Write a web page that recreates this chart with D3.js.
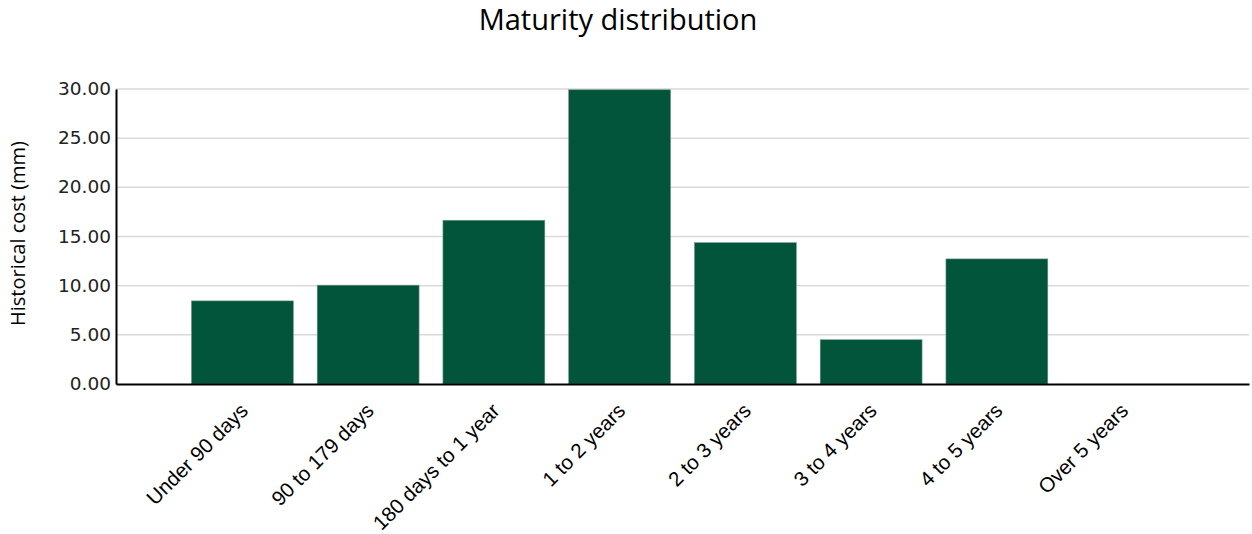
<!DOCTYPE html>
<html>
<head>
<meta charset="utf-8">
<script src="https://cdnjs.cloudflare.com/ajax/libs/d3/7.8.5/d3.min.js"></script>
<style>
  body { margin: 0; background: #fff; }
  svg { display: block; }
</style>
</head>
<body>
<svg width="1252" height="534"></svg>
<script>
var categories = ["Under 90 days", "90 to 179 days", "180 days to 1 year", "1 to 2 years",
  "2 to 3 years", "3 to 4 years", "4 to 5 years", "Over 5 years"];
var values = [8.45, 10.05, 16.65, 29.92, 14.37, 4.5, 12.72, 0];
var yTicks = [0, 5, 10, 15, 20, 25, 30];

var width = 1252;
var height = 534;
var margin = {top: 89, right: 3, bottom: 150, left: 116};
var plotW = width - margin.left - margin.right;
var plotH = height - margin.top - margin.bottom;

var svg = d3.select('svg');

var x = d3.scaleBand()
  .domain(categories)
  .range([margin.left, margin.left + plotW])
  .paddingInner(0.19)
  .paddingOuter(0.6);

var y = d3.scaleLinear()
  .domain([0, 30])
  .range([margin.top + plotH, margin.top]);

// title
svg.append('text')
  .attr('x', 618)
  .attr('y', 30)
  .attr('text-anchor', 'middle')
  .style('font-family', '"Open Sans", sans-serif')
  .style('font-size', '29px')
  .style('fill', '#000')
  .text('Maturity distribution');

// gridlines
svg.append('g')
  .selectAll('line')
  .data(yTicks.filter(function(t){ return t > 0; }))
  .enter().append('line')
  .attr('x1', margin.left)
  .attr('x2', margin.left + plotW)
  .attr('y1', function(d){ return y(d); })
  .attr('y2', function(d){ return y(d); })
  .attr('stroke', '#d9d9d9')
  .attr('stroke-width', 1.5);

// bars
svg.append('g')
  .selectAll('rect')
  .data(values)
  .enter().append('rect')
  .attr('x', function(d, i){ return x(categories[i]); })
  .attr('y', function(d){ return y(d); })
  .attr('width', x.bandwidth())
  .attr('height', function(d){ return y(0) - y(d); })
  .attr('fill', '#02543a')
  .attr('stroke', '#6f9486')
  .attr('stroke-width', function(d){ return d > 0 ? 0.6 : 0; });

// y axis
var yAxis = svg.append('g')
  .attr('transform', 'translate(' + margin.left + ',0)')
  .call(d3.axisLeft(y).tickValues(yTicks).tickFormat(d3.format('.2f')).tickSize(0).tickPadding(5));
yAxis.select('.domain').attr('stroke', '#000').attr('stroke-width', 2);
yAxis.selectAll('text')
  .attr('dy', '0.3em')
  .style('font-family', '"DejaVu Sans", Verdana, sans-serif')
  .style('font-size', '18.5px')
  .style('fill', '#222');

// x axis
var xAxis = svg.append('g')
  .attr('transform', 'translate(0,' + y(0) + ')')
  .call(d3.axisBottom(x).tickSize(0).tickFormat(''));
xAxis.select('.domain').attr('stroke', '#000').attr('stroke-width', 2);

svg.append('g')
  .selectAll('text')
  .data(categories)
  .enter().append('text')
  .attr('transform', function(d){
    return 'translate(' + (x(d) + x.bandwidth() / 2 + 7) + ',' + (y(0) + 28) + ') rotate(-45)';
  })
  .attr('text-anchor', 'end')
  .style('font-family', '"Liberation Sans", Arial, sans-serif')
  .style('font-size', '20.5px')
  .style('fill', '#000')
  .text(function(d){ return d; });

// y axis title
svg.append('text')
  .attr('transform', 'translate(25,233.5) rotate(-90)')
  .attr('text-anchor', 'middle')
  .style('font-family', '"Open Sans", sans-serif')
  .style('font-size', '20px')
  .style('fill', '#000')
  .text('Historical cost (mm)');
</script>
</body>
</html>
